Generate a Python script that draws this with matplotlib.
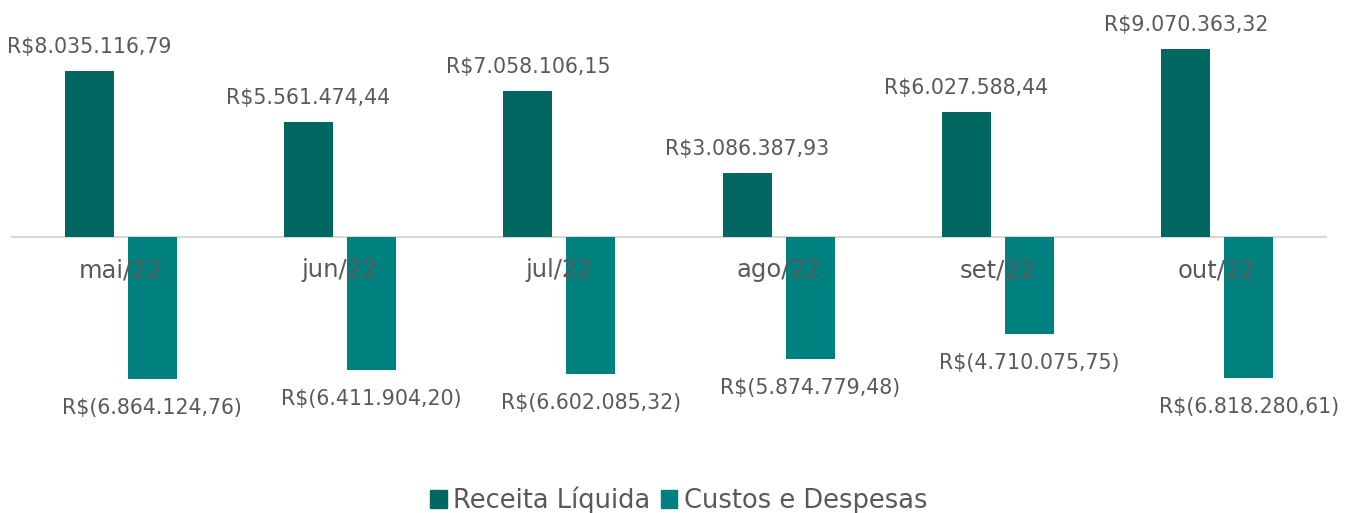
import matplotlib; matplotlib.use("Agg")
import matplotlib.pyplot as plt
from matplotlib.patches import Patch
import numpy as np

months = ["mai/22", "jun/22", "jul/22", "ago/22", "set/22", "out/22"]
receita = [8035116.79, 5561474.44, 7058106.15, 3086387.93, 6027588.44, 9070363.32]
custos = [-6864124.76, -6411904.20, -6602085.32, -5874779.48, -4710075.75, -6818280.61]
series_names = ["Receita Líquida", "Custos e Despesas"]

DARK = "#016760"; TEAL = "#00807F"; TXT = "#595959"
plt.rcParams["font.family"] = ["DejaVu Sans"]

def brl(v):
    s = f"{abs(v):,.2f}".replace(",", "X").replace(".", ",").replace("X", ".")
    return f"R${s}" if v >= 0 else f"R$({s})"

fig = plt.figure(figsize=(13.57, 5.13), dpi=100)
ax = fig.add_axes([11/1357, 73/513, 1316/1357, 430/513])
x = np.arange(len(months))
w = 0.223; off = 0.1435
b1 = ax.bar(x - off, receita, w, color=DARK, zorder=1)
b2 = ax.bar(x + off, custos, w, color=TEAL, zorder=1)
ax.set_xlim(-0.5, len(months) - 0.5)
ax.set_ylim(-9.81e6, 10.97e6)
ax.axhline(0, color="#D9D9D9", lw=1.5, zorder=0)
ax.axis("off")

for xi, v in zip(x - off, receita):
    ax.annotate(brl(v), (xi, v), xytext=(0, 14), textcoords="offset pixels",
                ha="center", va="bottom", fontsize=14.8, color=TXT)
for xi, v in zip(x + off, custos):
    ax.annotate(brl(v), (xi, v), xytext=(0, -19), textcoords="offset pixels",
                ha="center", va="top", fontsize=14.8, color=TXT)
for xi, m in zip(x, months):
    ax.annotate(m, (xi, 0), xytext=(0, -21), textcoords="offset pixels",
                ha="center", va="top", fontsize=17.5, color=TXT, zorder=5)

handles = [Patch(color=DARK), Patch(color=TEAL)]
fig.legend(handles, series_names, loc="lower center", bbox_to_anchor=(0.5, -0.047), ncol=2,
           frameon=False, fontsize=18.5, handlelength=0.65, handleheight=0.65,
           handletextpad=0.25, columnspacing=0.4, labelcolor=TXT)

fig.savefig("out.png", dpi=100)
